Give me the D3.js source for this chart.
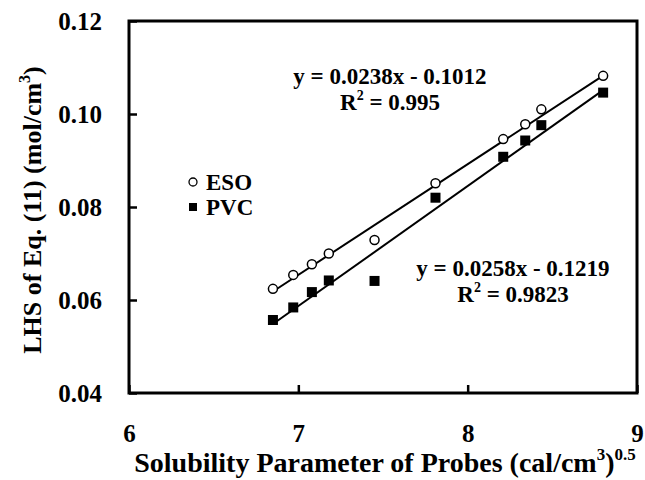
<!DOCTYPE html>
<html>
<head>
<meta charset="utf-8">
<script src="https://cdn.jsdelivr.net/npm/d3@7"></script>
<style>
  body { margin: 0; background: #fff; }
</style>
</head>
<body>
<div id="chart"></div>
<script>
// probe solubility parameters (cal/cm3)^0.5
var probeX = [6.85, 6.97, 7.08, 7.18, 7.45, 7.81, 8.21, 8.34, 8.435, 8.80];
// LHS of Eq. (11) for each polymer
var esoY = [0.0624, 0.0654, 0.0677, 0.0700, 0.0729, 0.0851, 0.0946, 0.0978, 0.1010, 0.1082];
var pvcY = [0.0557, 0.0584, 0.0617, 0.0642, 0.0641, 0.0820, 0.0908, 0.0943, 0.0976, 0.1046];
// linear fits printed on the chart
var fitSlope = [0.0238, 0.0258];
var fitIntercept = [-0.1012, -0.1219];
var fitR2 = ["0.995", "0.9823"];
var xTicks = [6, 7, 8, 9];
var yTicks = [0.04, 0.06, 0.08, 0.10, 0.12];

var width = 645, height = 480;
var margin = {top: 21, right: 8, bottom: 87, left: 129};
var serif = "'Liberation Serif', 'Times New Roman', 'DejaVu Serif', serif";

var svg = d3.select("#chart").append("svg")
    .attr("width", width)
    .attr("height", height)
    .style("font-family", serif)
    .style("font-weight", "bold");

var x = d3.scaleLinear().domain([6, 9]).range([margin.left, width - margin.right]);
var y = d3.scaleLinear().domain([0.04, 0.12]).range([height - margin.bottom, margin.top]);

// helper: write text with superscripts, parts = [[string, isSup], ...]
function richText(g, parts, size) {
  var supSize = Math.round(size * 0.6);
  var raised = false;
  parts.forEach(function(p) {
    var t = g.append("tspan").text(p[0]);
    if (p[1]) {
      t.attr("font-size", supSize).attr("dy", -size * 0.42);
      raised = true;
    } else {
      t.attr("font-size", size);
      if (raised) { t.attr("dy", size * 0.42); raised = false; }
    }
  });
  return g;
}

function styleAxis(g) {
  g.select(".domain").remove();
  g.attr("font-family", null).style("font-family", serif);
  g.selectAll("line").attr("stroke", "#000").attr("stroke-width", 2.5);
  g.selectAll("text").attr("font-size", 25).attr("fill", "#000");
}

// axes, ticks point inward
svg.append("g")
    .attr("transform", "translate(0," + y.range()[0] + ")")
    .call(d3.axisBottom(x).tickValues(xTicks).tickFormat(d3.format("d"))
        .tickSizeInner(-8).tickSizeOuter(0).tickPadding(31))
    .call(styleAxis);

svg.append("g")
    .attr("transform", "translate(" + x.range()[0] + ",0)")
    .call(d3.axisLeft(y).tickValues(yTicks).tickFormat(d3.format(".2f"))
        .tickSizeInner(-8).tickSizeOuter(0).tickPadding(27))
    .call(styleAxis);

// plot frame
svg.append("rect")
    .attr("x", x.range()[0])
    .attr("y", y.range()[1])
    .attr("width", x.range()[1] - x.range()[0])
    .attr("height", y.range()[0] - y.range()[1])
    .attr("fill", "none")
    .attr("stroke", "#000")
    .attr("stroke-width", 3);

// fit lines
var xMin = d3.min(probeX), xMax = d3.max(probeX);
fitSlope.forEach(function(m, i) {
  var b = fitIntercept[i];
  svg.append("line")
      .attr("x1", x(xMin)).attr("y1", y(m * xMin + b))
      .attr("x2", x(xMax)).attr("y2", y(m * xMax + b))
      .attr("stroke", "#000")
      .attr("stroke-width", 2);
});

// ESO points (open circles)
svg.selectAll("circle.eso")
    .data(probeX)
    .enter().append("circle")
    .attr("class", "eso")
    .attr("cx", function(d) { return x(d); })
    .attr("cy", function(d, i) { return y(esoY[i]); })
    .attr("r", 4.5)
    .attr("fill", "#fff")
    .attr("stroke", "#000")
    .attr("stroke-width", 1.5);

// PVC points (filled squares)
var sq = 10;
svg.selectAll("rect.pvc")
    .data(probeX)
    .enter().append("rect")
    .attr("class", "pvc")
    .attr("x", function(d) { return x(d) - sq / 2; })
    .attr("y", function(d, i) { return y(pvcY[i]) - sq / 2; })
    .attr("width", sq)
    .attr("height", sq)
    .attr("fill", "#000");

// fit equations
var eqPos = [[390, 84], [513, 276]];
fitSlope.forEach(function(m, i) {
  var sign = fitIntercept[i] < 0 ? " - " : " + ";
  svg.append("text")
      .attr("x", eqPos[i][0]).attr("y", eqPos[i][1])
      .attr("text-anchor", "middle")
      .attr("font-size", 23)
      .text("y = " + m + "x" + sign + Math.abs(fitIntercept[i]));
  richText(svg.append("text")
      .attr("x", eqPos[i][0]).attr("y", eqPos[i][1] + 26)
      .attr("text-anchor", "middle"),
      [["R", false], ["2", true], [" = " + fitR2[i], false]], 23);
});

// legend
svg.append("circle").attr("cx", 193).attr("cy", 182).attr("r", 4)
    .attr("fill", "#fff").attr("stroke", "#000").attr("stroke-width", 1.3);
svg.append("text").attr("x", 206).attr("y", 190).attr("font-size", 23).text("ESO");
svg.append("rect").attr("x", 189).attr("y", 203).attr("width", 8).attr("height", 8).attr("fill", "#000");
svg.append("text").attr("x", 206).attr("y", 215).attr("font-size", 23).text("PVC");

// axis titles
richText(svg.append("text")
    .attr("x", 385).attr("y", 472)
    .attr("text-anchor", "middle"),
    [["Solubility Parameter of Probes (cal/cm", false], ["3", true], [")", false], ["0.5", true]], 28);

richText(svg.append("text")
    .attr("transform", "translate(41,210) rotate(-90)")
    .attr("text-anchor", "middle"),
    [["LHS of Eq. (11) (mol/cm", false], ["3", true], [")", false]], 26);
</script>
</body>
</html>
